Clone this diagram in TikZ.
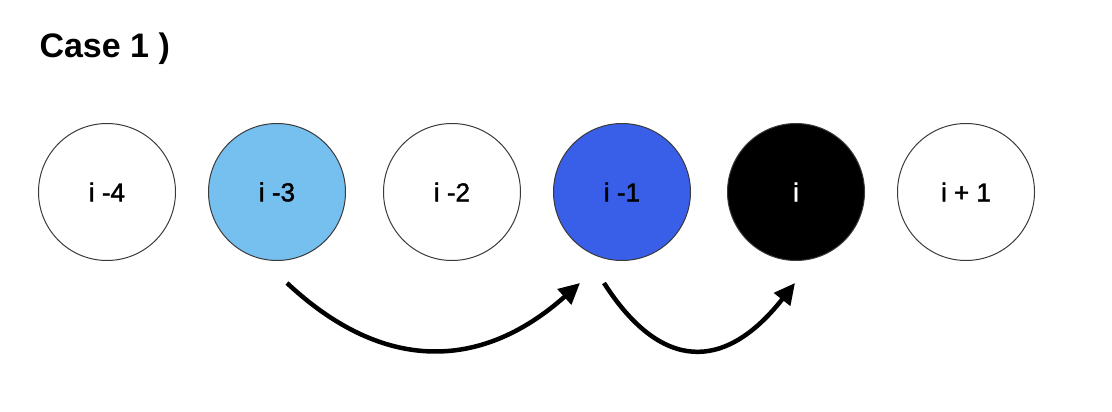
\documentclass[tikz,border=0pt]{standalone}
\usepackage{fontspec}
\setmainfont{Liberation Sans}
\newfontfamily\lblfont[BoldFont={Liberation Sans},BoldFeatures={FakeBold=1.6}]{Liberation Sans}
\usetikzlibrary{arrows.meta,calc}
\definecolor{lightblue}{HTML}{76C0F0}
\definecolor{midblue}{HTML}{395EE8}
\definecolor{ringgray}{HTML}{3A3A3A}
\begin{document}
\begin{tikzpicture}[x=1pt,y=-1pt,
  cnode/.style={circle,draw=ringgray,line width=1pt,minimum size=137pt,inner sep=0pt,
    font=\lblfont\bfseries\fontsize{26}{30}\selectfont},
  curvearrow/.style={line width=4.5pt,-{Triangle[length=21pt,width=20pt]}}]
\useasboundingbox (0,0) rectangle (1112,412);
\node[anchor=base west,font=\fontsize{34}{39}\selectfont\bfseries] (title) at (36,58) {Case 1 )};
\node[cnode,fill=white] (n1) at (107,192) {i -4};
\node[cnode,fill=lightblue] (n2) at (277,192) {i -3};
\node[cnode,fill=white] (n3) at (452,192) {i -2};
\node[cnode,fill=midblue] (n4) at (622,192) {i -1};
\node[cnode,fill=black,text=white] (n5) at (796,192) {i};
\node[cnode,fill=white] (n6) at (966,192) {i + 1};
\coordinate (a1s) at ($(n2.center)+(10,91)$);
\coordinate (a1e) at ($(n4.center)+(-42,91)$);
\coordinate (a2s) at ($(n4.center)+(-18,91)$);
\coordinate (a2e) at ($(n5.center)+(-1,91)$);
\draw[curvearrow] (a1s) .. controls (382,372) and (480,372) .. (a1e);
\draw[curvearrow] (a2s) .. controls (661,372) and (725,372) .. (a2e);
\end{tikzpicture}
\end{document}
